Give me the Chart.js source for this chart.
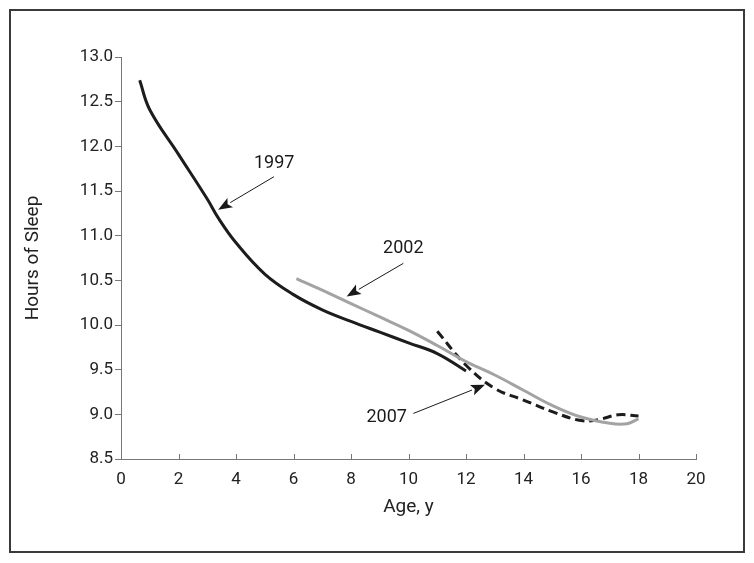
<!DOCTYPE html>
<html>
<head>
<meta charset="utf-8">
<script src="https://cdn.jsdelivr.net/npm/chart.js@4/dist/chart.umd.min.js"></script>
<style>
html,body{margin:0;padding:0;background:#fff;}
#wrap{position:relative;width:754px;height:563px;}
</style>
</head>
<body>
<div id="wrap"><canvas id="c" width="754" height="563"></canvas></div>
<script>
// ---- data ----
const ages1997 = [0.65, 1, 2, 3, 3.4, 4, 5, 6, 7, 8, 9, 10, 11, 12];
const sleep1997 = [12.74, 12.41, 11.91, 11.41, 11.19, 10.92, 10.57, 10.34, 10.17, 10.04, 9.92, 9.80, 9.68, 9.485];
const ages2002 = [6.1, 7, 8, 9, 10, 11, 12, 13, 14, 15, 16, 17, 17.6, 18];
const sleep2002 = [10.52, 10.39, 10.24, 10.09, 9.94, 9.77, 9.59, 9.44, 9.27, 9.10, 8.97, 8.90, 8.895, 8.95];
const ages2007 = [11, 12, 13, 14, 15, 16, 16.6, 17.3, 18];
const sleep2007 = [9.93, 9.55, 9.29, 9.16, 9.03, 8.93, 8.94, 8.995, 8.98];
const seriesLabels = ['1997', '2002', '2007'];
const xTicks = [0, 2, 4, 6, 8, 10, 12, 14, 16, 18, 20];
const yTicks = [8.5, 9.0, 9.5, 10.0, 10.5, 11.0, 11.5, 12.0, 12.5, 13.0];
// annotation label + arrow: [text, textAge, textHours, fromAge, fromHours, tipAge, tipHours]
const annotations = [
  ['1997', 5.33, 11.81, 5.32, 11.66, 3.38, 11.29],
  ['2002', 9.82, 10.855, 9.82, 10.69, 7.85, 10.32],
  ['2007', 9.24, 8.96, 10.17, 9.01, 12.66, 9.33]
];

const FONT = 'Roboto, "Liberation Sans", sans-serif';
const toPts = (xs, ys) => xs.map((x, i) => ({x: x, y: ys[i]}));

const framePlugin = {
  id: 'frame',
  beforeDraw(chart) {
    const ctx = chart.ctx;
    ctx.save();
    ctx.strokeStyle = '#3a3a3a';
    ctx.lineWidth = 2;
    ctx.strokeRect(10, 10, 734, 542);
    ctx.restore();
  }
};

const innerTicksPlugin = {
  id: 'innerTicks',
  afterDraw(chart) {
    const xs = chart.scales.x;
    const ctx = chart.ctx;
    const b = chart.chartArea.bottom;
    ctx.save();
    ctx.strokeStyle = '#777';
    ctx.lineWidth = 1;
    xTicks.forEach(v => {
      const px = Math.round(xs.getPixelForValue(v)) + 0.5;
      ctx.beginPath();
      ctx.moveTo(px, b);
      ctx.lineTo(px, b - 5);
      ctx.stroke();
    });
    ctx.restore();
  }
};

const annotPlugin = {
  id: 'annot',
  afterDatasetsDraw(chart) {
    const xs = chart.scales.x, ys = chart.scales.y;
    const ctx = chart.ctx;
    ctx.save();
    annotations.forEach(a => {
      const tx = xs.getPixelForValue(a[1]), ty = ys.getPixelForValue(a[2]);
      const fx = xs.getPixelForValue(a[3]), fy = ys.getPixelForValue(a[4]);
      const hx = xs.getPixelForValue(a[5]), hy = ys.getPixelForValue(a[6]);
      ctx.fillStyle = '#1a1a1a';
      ctx.font = '18px ' + FONT;
      ctx.textAlign = 'center';
      ctx.textBaseline = 'middle';
      ctx.fillText(a[0], tx, ty);
      const ang = Math.atan2(hy - fy, hx - fx);
      const headLen = 14, headW = 5.5;
      const bx = hx - headLen * Math.cos(ang), by = hy - headLen * Math.sin(ang);
      ctx.strokeStyle = '#1a1a1a';
      ctx.lineWidth = 1;
      ctx.beginPath();
      ctx.moveTo(fx, fy);
      ctx.lineTo(bx, by);
      ctx.stroke();
      ctx.beginPath();
      ctx.moveTo(hx, hy);
      ctx.lineTo(bx + headW * Math.sin(ang), by - headW * Math.cos(ang));
      ctx.lineTo(bx + 3 * Math.cos(ang), by + 3 * Math.sin(ang));
      ctx.lineTo(bx - headW * Math.sin(ang), by + headW * Math.cos(ang));
      ctx.closePath();
      ctx.fill();
    });
    ctx.restore();
  }
};

new Chart(document.getElementById('c'), {
  type: 'scatter',
  data: {
    datasets: [
      {label: seriesLabels[0], data: toPts(ages1997, sleep1997), showLine: true, borderColor: '#1c1c1c', borderWidth: 3, pointRadius: 0, tension: 0.4, fill: false},
      {label: seriesLabels[1], data: toPts(ages2002, sleep2002), showLine: true, borderColor: '#a3a3a3', borderWidth: 3, pointRadius: 0, tension: 0.4, fill: false},
      {label: seriesLabels[2], data: toPts(ages2007, sleep2007), showLine: true, borderColor: '#1c1c1c', borderWidth: 3, borderDash: [9, 5], pointRadius: 0, tension: 0.4, fill: false}
    ]
  },
  options: {
    responsive: false,
    animation: false,
    events: [],
    layout: {padding: {top: 57, right: 58, bottom: 0, left: 0}},
    plugins: {legend: {display: false}, tooltip: {enabled: false}},
    scales: {
      x: {
        type: 'linear', min: 0, max: 20,
        afterBuildTicks(s) { s.ticks = xTicks.map(v => ({value: v})); },
        afterFit(s) { s.height = 104; },
        grid: {display: true, drawOnChartArea: false, drawTicks: false},
        border: {display: true, color: '#777', width: 1},
        ticks: {color: '#222', font: {family: FONT, size: 17}, padding: 11, maxRotation: 0},
        title: {display: true, text: 'Age, y', color: '#222', font: {family: FONT, size: 19}, padding: {top: 0, bottom: 44}}
      },
      y: {
        type: 'linear', min: 8.5, max: 13.0,
        afterBuildTicks(s) { s.ticks = yTicks.map(v => ({value: v})); },
        afterFit(s) { s.width = 121; },
        grid: {display: true, drawOnChartArea: false, drawTicks: true, tickLength: 6, color: '#777'},
        border: {display: true, color: '#777', width: 1},
        ticks: {color: '#222', font: {family: FONT, size: 17}, padding: 2, callback: v => Number(v).toFixed(1)},
        title: {display: true, text: 'Hours of Sleep', color: '#222', font: {family: FONT, size: 19}, padding: {top: 22, bottom: 0}}
      }
    }
  },
  plugins: [framePlugin, innerTicksPlugin, annotPlugin]
});
</script>
</body>
</html>
